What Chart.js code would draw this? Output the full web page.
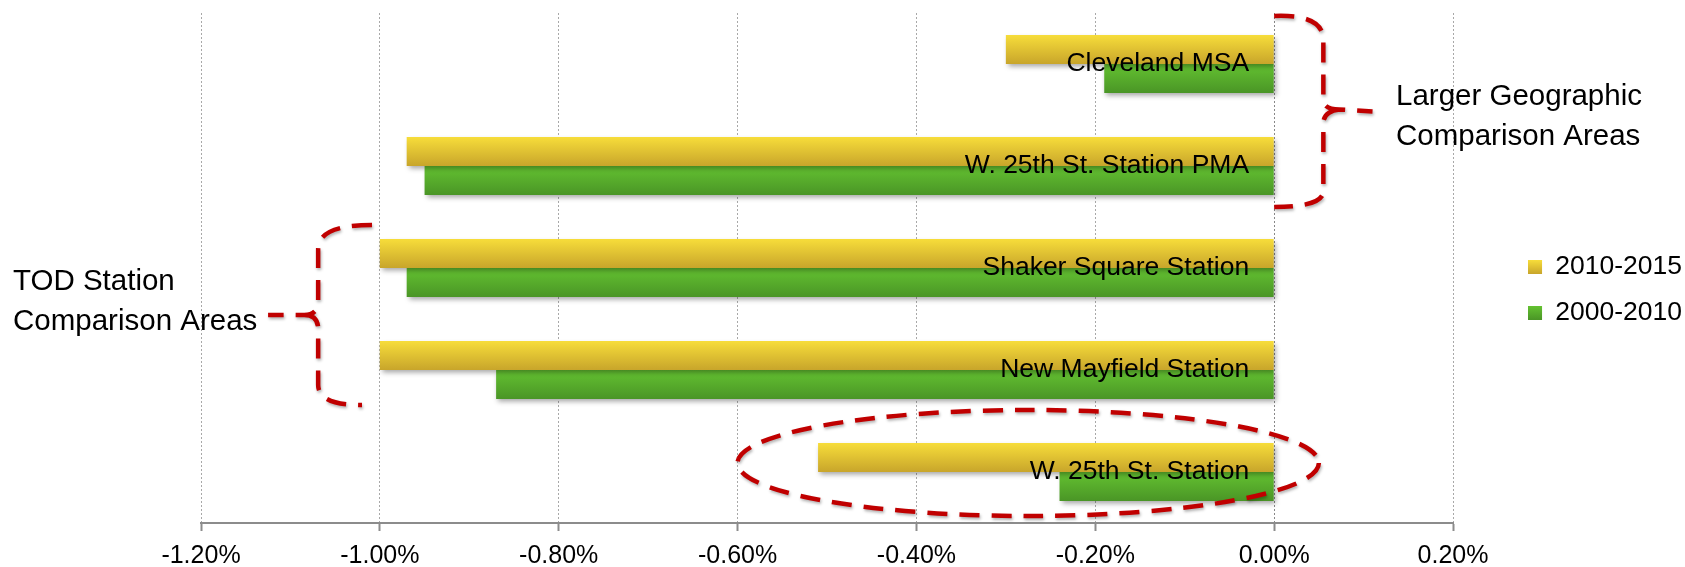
<!DOCTYPE html>
<html>
<head>
<meta charset="utf-8">
<script src="https://cdn.jsdelivr.net/npm/chart.js@4.4.1/dist/chart.umd.min.js"></script>
<style>
    html, body { margin: 0; padding: 0; background: #fff; }
    #wrap { width: 1685px; height: 567px; }
</style>
</head>
<body>
<div id="wrap"><canvas id="chart"></canvas></div>
<script>
// Data
const categories = ['Cleveland MSA', 'W. 25th St. Station PMA', 'Shaker Square Station', 'New Mayfield Station', 'W. 25th St. Station'];
const seriesNames = ['2010-2015', '2000-2010'];
const change2010to2015 = [-0.30, -0.97, -1.00, -1.00, -0.51];
const change2000to2010 = [-0.19, -0.95, -0.97, -0.87, -0.24];
const xTicks = [-1.2, -1.0, -0.8, -0.6, -0.4, -0.2, 0, 0.2];

const CAT_PCT = 0.57;
const FONT = "'Liberation Sans', Arial, sans-serif";
const fills = [['#f7dd3a', '#c8a52b'], ['#64c231', '#4a9526']];

// vertical gradient per bar, like the Excel fill
function barFill(top, bottom) {
    return (c) => {
        const chart = c.chart;
        if (!chart.chartArea || c.type !== 'data') return top;
        const y = chart.scales.y;
        const center = y.getPixelForValue(c.dataIndex);
        const band = y.height / categories.length * CAT_PCT / 2;
        const start = c.datasetIndex === 0 ? center - band : center;
        const g = chart.ctx.createLinearGradient(0, start, 0, start + band);
        g.addColorStop(0, top);
        g.addColorStop(1, bottom);
        return g;
    };
}

const barShadow = {
    id: 'barShadow',
    beforeDatasetsDraw(chart) {
        const ctx = chart.ctx;
        ctx.save();
        ctx.shadowColor = 'rgba(0,0,0,0.35)';
        ctx.shadowBlur = 5;
        ctx.shadowOffsetX = 2;
        ctx.shadowOffsetY = 3;
    },
    afterDatasetsDraw(chart) {
        chart.ctx.restore();
    }
};

// repaint legend swatches with the same gradient as the bars
const legendSwatch = {
    id: 'legendSwatch',
    afterDraw(chart) {
        const ctx = chart.ctx;
        const boxes = chart.legend.legendHitBoxes || [];
        boxes.forEach((hb, i) => {
            const top = hb.top + (hb.height - 14) / 2;
            const g = ctx.createLinearGradient(0, top, 0, top + 14);
            g.addColorStop(0, fills[i][0]);
            g.addColorStop(1, fills[i][1]);
            ctx.fillStyle = g;
            ctx.fillRect(hb.left, top, 14, 14);
        });
    }
};

// red dashed callouts and their notes
const callouts = {
    id: 'callouts',
    afterDraw(chart) {
        const { ctx, scales: { x, y } } = chart;
        const px = v => x.getPixelForValue(v);
        ctx.save();
        ctx.strokeStyle = '#c00000';
        ctx.lineWidth = 4.5;
        ctx.setLineDash([20, 12]);
        ctx.shadowColor = 'rgba(0,0,0,0.3)';
        ctx.shadowBlur = 3;
        ctx.shadowOffsetX = 1;
        ctx.shadowOffsetY = 2;

        // ellipse round W. 25th St. Station
        const ex = px(-0.275), ey = y.getPixelForValue(4) - 9;
        ctx.beginPath();
        ctx.ellipse(ex, ey, px(0.05) - ex, 53, 0, 0, Math.PI * 2);
        ctx.stroke();

        // right brace: larger areas
        let x0 = px(0), xv = px(0.055), xn = px(0.11);
        let top = y.getPixelForValue(0) - 48, bot = y.getPixelForValue(1) + 41, mid = (top + bot) / 2;
        ctx.beginPath();
        ctx.moveTo(x0, top);
        ctx.quadraticCurveTo(xv, top - 2, xv, top + 24);
        ctx.lineTo(xv, mid - 12);
        ctx.quadraticCurveTo(xv, mid - 2, xv + 16, mid - 2);
        ctx.lineTo(xn, mid);
        ctx.moveTo(xv + 16, mid - 2);
        ctx.quadraticCurveTo(xv, mid, xv, mid + 12);
        ctx.lineTo(xv, bot - 16);
        ctx.quadraticCurveTo(xv, bot, x0, bot);
        ctx.stroke();

        // left brace: TOD stations
        x0 = px(-1.02); xv = px(-1.069); xn = px(-1.125);
        top = y.getPixelForValue(2) - 43; bot = y.getPixelForValue(3) + 35; mid = (top + bot) / 2;
        ctx.beginPath();
        ctx.moveTo(x0 + 10, top);
        ctx.quadraticCurveTo(xv, top, xv, top + 24);
        ctx.lineTo(xv, mid - 14);
        ctx.quadraticCurveTo(xv, mid, xv - 14, mid);
        ctx.lineTo(xn, mid);
        ctx.moveTo(xv - 14, mid);
        ctx.quadraticCurveTo(xv, mid, xv, mid + 14);
        ctx.lineTo(xv, bot - 20);
        ctx.quadraticCurveTo(xv, bot, x0, bot);
        ctx.stroke();
        ctx.restore();

        ctx.save();
        ctx.fillStyle = '#000';
        ctx.font = '29.5px ' + FONT;
        ctx.textBaseline = 'middle';
        ctx.textAlign = 'left';
        ctx.fillText('Larger Geographic', 1396, 97);
        ctx.fillText('Comparison Areas', 1396, 137);
        ctx.fillText('TOD Station', 13, 282);
        ctx.fillText('Comparison Areas', 13, 322);
        ctx.restore();
    }
};

new Chart(document.getElementById('chart'), {
    type: 'bar',
    data: {
        labels: categories,
        datasets: [
            {
                label: seriesNames[0],
                data: change2010to2015,
                yAxisID: 'y',
                backgroundColor: barFill(fills[0][0], fills[0][1]),
                categoryPercentage: CAT_PCT,
                barPercentage: 1
            },
            {
                label: seriesNames[1],
                data: change2000to2010,
                yAxisID: 'y',
                backgroundColor: barFill(fills[1][0], fills[1][1]),
                categoryPercentage: CAT_PCT,
                barPercentage: 1
            }
        ]
    },
    options: {
        indexAxis: 'y',
        responsive: true,
        maintainAspectRatio: false,
        animation: false,
        layout: { padding: { left: 201, top: 13, right: -7, bottom: 0 } },
        plugins: {
            tooltip: { enabled: false },
            legend: {
                position: 'right',
                labels: {
                    boxWidth: 14,
                    boxHeight: 14,
                    padding: 19.5,
                    color: '#000',
                    font: { family: FONT, size: 26.5 },
                    generateLabels: () => seriesNames.map((name, i) => ({
                        text: name,
                        fillStyle: fills[i][1],
                        strokeStyle: fills[i][1],
                        fontColor: '#000',
                        lineWidth: 0,
                        hidden: false,
                        datasetIndex: i
                    }))
                }
            }
        },
        scales: {
            x: {
                type: 'linear',
                min: xTicks[0],
                max: xTicks[xTicks.length - 1],
                afterBuildTicks: s => { s.ticks = xTicks.map(v => ({ value: v })); },
                afterFit: s => { s.height = 44; },
                grid: {
                    color: c => (c.tick && c.tick.value === 0) ? '#888888' : '#a8a8a8',
                    lineWidth: 1,
                    drawTicks: true,
                    tickLength: 8,
                    tickColor: '#8c8c8c',
                    tickWidth: 2
                },
                border: { display: true, color: '#8c8c8c', width: 2, dash: [2, 2] },
                ticks: {
                    padding: 10.5,
                    color: '#000',
                    font: { family: FONT, size: 25 },
                    callback: v => (Math.abs(v) < 1e-9 ? 0 : v).toFixed(2) + '%'
                }
            },
            y: {
                type: 'category',
                position: { x: -0.028 },
                grid: { display: false },
                border: { display: false },
                ticks: {
                    z: 1,
                    color: '#000',
                    font: { family: FONT, size: 26.5 }
                },
                afterFit: s => { s.paddingTop = 0; s.paddingBottom = 0; }
            },
            gap: {
                axis: 'y',
                type: 'linear',
                position: 'right',
                grid: { display: false },
                border: { display: false },
                ticks: { display: false },
                afterFit: s => { s.width = 55.5; s.paddingTop = 0; s.paddingBottom = 0; }
            }
        }
    },
    plugins: [barShadow, legendSwatch, callouts]
});
</script>
</body>
</html>
